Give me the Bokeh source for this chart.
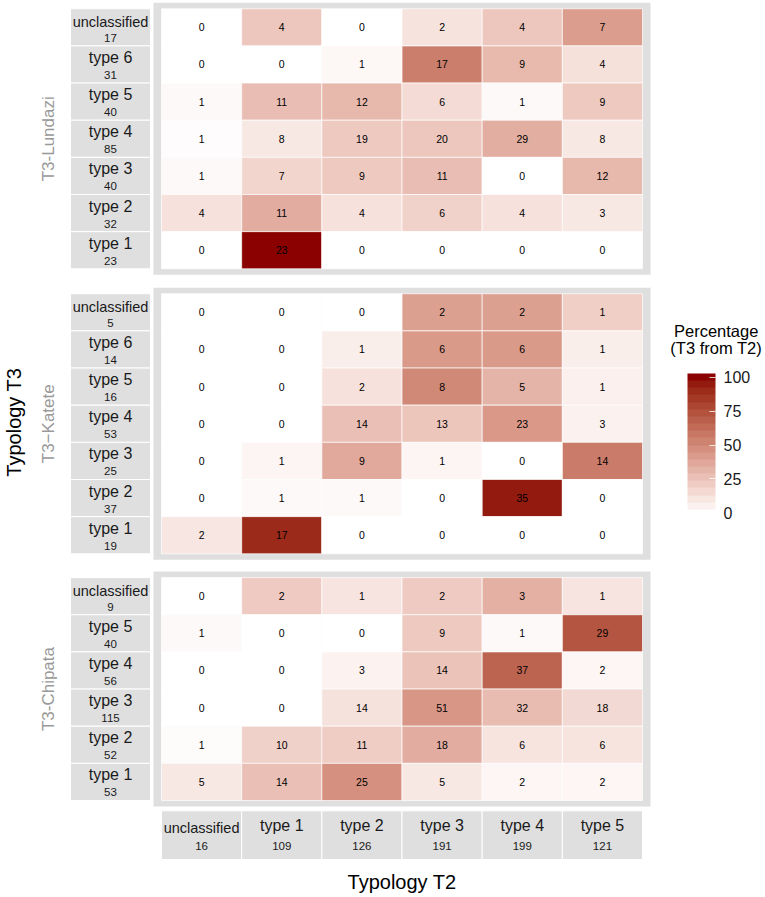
import numpy as np
from bokeh.plotting import figure
from bokeh.models import Range1d, ColumnDataSource, ColorBar, LinearColorMapper, FixedTicker
from bokeh.transform import linear_cmap
from bokeh.core.properties import value
from bokeh.embed import file_html
from bokeh.resources import INLINE

# ---------------- data ----------------
t2_categories = ["unclassified", "type 1", "type 2", "type 3", "type 4", "type 5"]

lundazi_rows = ["unclassified", "type 6", "type 5", "type 4", "type 3", "type 2", "type 1"]
lundazi_counts = [
    [0, 4, 0, 2, 4, 7],
    [0, 0, 1, 17, 9, 4],
    [1, 11, 12, 6, 1, 9],
    [1, 8, 19, 20, 29, 8],
    [1, 7, 9, 11, 0, 12],
    [4, 11, 4, 6, 4, 3],
    [0, 23, 0, 0, 0, 0],
]

katete_rows = ["unclassified", "type 6", "type 5", "type 4", "type 3", "type 2", "type 1"]
katete_counts = [
    [0, 0, 0, 2, 2, 1],
    [0, 0, 1, 6, 6, 1],
    [0, 0, 2, 8, 5, 1],
    [0, 0, 14, 13, 23, 3],
    [0, 1, 9, 1, 0, 14],
    [0, 1, 1, 0, 35, 0],
    [2, 17, 0, 0, 0, 0],
]

chipata_rows = ["unclassified", "type 5", "type 4", "type 3", "type 2", "type 1"]
chipata_counts = [
    [0, 2, 1, 2, 3, 1],
    [1, 0, 0, 9, 1, 29],
    [0, 0, 3, 14, 37, 2],
    [0, 0, 14, 51, 32, 18],
    [1, 10, 11, 18, 6, 6],
    [5, 14, 25, 5, 2, 2],
]

panel_names = ["T3-Lundazi", "T3\u2212Katete", "T3-Chipata"]
legend_ticks = [0, 25, 50, 75, 100]

# ---------------- colour gradient (white -> darkred, Lab) ----------------
M = np.array([[0.4124564, 0.3575761, 0.1804375],
              [0.2126729, 0.7151522, 0.0721750],
              [0.0193339, 0.1191920, 0.9503041]])
WP = np.array([0.95047, 1.0, 1.08883])


def hex_to_lab(h):
    c = np.array([int(h[i:i + 2], 16) for i in (1, 3, 5)]) / 255.0
    lin = np.where(c <= 0.04045, c / 12.92, ((c + 0.055) / 1.055) ** 2.4)
    xyz = (M @ lin) / WP
    f = np.where(xyz > 0.008856, np.cbrt(xyz), 7.787 * xyz + 16 / 116)
    return np.array([116 * f[1] - 16, 500 * (f[0] - f[1]), 200 * (f[1] - f[2])])


def lab_to_hex(lab):
    L, a, b = lab
    fy = (L + 16) / 116
    f = np.array([fy + a / 500, fy, fy - b / 200])
    xyz = np.where(f ** 3 > 0.008856, f ** 3, (f - 16 / 116) / 7.787) * WP
    lin = np.clip(np.linalg.inv(M) @ xyz, 0, 1)
    c = np.where(lin <= 0.0031308, 12.92 * lin, 1.055 * lin ** (1 / 2.4) - 0.055)
    r, g, bb = np.clip(np.round(c * 255), 0, 255).astype(int)
    return "#%02x%02x%02x" % (r, g, bb)


LOW, HIGH = hex_to_lab("#ffffff"), hex_to_lab("#8b0000")
palette256 = [lab_to_hex(LOW + t * (HIGH - LOW)) for t in np.linspace(0, 1, 256)]
palette20 = [lab_to_hex(LOW + t * (HIGH - LOW)) for t in np.linspace(0, 1, 20)]

# ---------------- layout constants ----------------
W, H = 765, 897
CW = 80.17          # px per T2 column
RH = 37.15          # px per T3 row
X0_PX = 161         # canvas x of first column
Y0_PX = 800         # canvas y of bottom of bottom panel
panel_bases = [14.312, 6.641, 0.0]
FONT_NAME = "Liberation Sans"
FONT = value(FONT_NAME)
GREY = "#dfdfdf"

p = figure(width=W, height=H, output_backend="svg", toolbar_location=None,
           x_range=Range1d(-X0_PX / CW, (W - X0_PX) / CW),
           y_range=Range1d(-(H - Y0_PX) / RH, Y0_PX / RH),
           min_border=0, outline_line_color=None)
p.axis.visible = False
p.grid.visible = False
p.background_fill_color = "white"
p.border_fill_color = "white"

all_rows = [lundazi_rows, katete_rows, chipata_rows]
all_counts = [lundazi_counts, katete_counts, chipata_counts]

cx, cy, ctext, cpct = [], [], [], []
sx, sy, sname, scount, sfs, syn = [], [], [], [], [], []
fx, fy, fh = [], [], []
col_totals = np.zeros(len(t2_categories), dtype=int)
for rows, counts, base in zip(all_rows, all_counts, panel_bases):
    n = len(rows)
    fx.append(len(t2_categories) / 2)
    fy.append(base + n / 2)
    fh.append(n + 2 * 6 / RH)
    for k, (rname, rc) in enumerate(zip(rows, counts)):
        pos = n - 1 - k
        tot = sum(rc)
        col_totals += np.array(rc)
        for i, c in enumerate(rc):
            cx.append(i + 0.5)
            cy.append(base + pos + 0.5)
            ctext.append(str(c))
            cpct.append(100.0 * c / tot if tot else 0.0)
        long_name = len(rname) > 8
        sx.append(-0.636)
        sy.append(base + pos + 0.5)
        syn.append(base + pos + 0.5 + (5.5 if long_name else 7.0) / RH)
        sname.append(rname)
        scount.append(str(tot))
        sfs.append("14.5px" if long_name else "16px")

# panel frames
p.rect(x=fx, y=fy, width=len(t2_categories) + 2 * 8 / CW, height=fh,
       fill_color=GREY, line_color=None)

cells = ColumnDataSource(dict(x=cx, y=cy, text=ctext, pct=cpct))
p.rect(x="x", y="y", width=1, height=1, source=cells,
       fill_color=linear_cmap("pct", palette256, 0, 100),
       line_color="white", line_width=0.7)
p.text(x="x", y="y", text="text", source=cells, text_align="center",
       text_baseline="middle", text_font=FONT, text_font_size="10.5px",
       text_color="black")

# left strips
strips = ColumnDataSource(dict(x=sx, y=sy, name=sname, count=scount, fs=sfs,
                               yn=syn, yc=[v - 10.5 / RH for v in sy]))
p.rect(x="x", y="y", width=0.998, height=1, source=strips,
       fill_color=GREY, line_color="white", line_width=1)
p.text(x="x", y="yn", text="name", source=strips, text_align="center",
       text_baseline="middle", text_font=FONT, text_font_size="fs",
       text_color="#1a1a1a")
p.text(x="x", y="yc", text="count", source=strips, text_align="center",
       text_baseline="middle", text_font=FONT, text_font_size="11.5px",
       text_color="#1a1a1a")

# bottom strips
bcy = -0.933
bot = ColumnDataSource(dict(
    x=[i + 0.5 for i in range(len(t2_categories))],
    name=t2_categories, count=[str(v) for v in col_totals],
    fs=["14.5px" if len(s) > 8 else "16px" for s in t2_categories],
    yn=[bcy + (7.5 if len(s) > 8 else 9.6) / RH for s in t2_categories]))
p.rect(x="x", y=bcy, width=1, height=1.311, source=bot,
       fill_color=GREY, line_color="white", line_width=1)
p.text(x="x", y="yn", text="name", source=bot, text_align="center",
       text_baseline="middle", text_font=FONT, text_font_size="fs",
       text_color="#1a1a1a")
p.text(x="x", y=bcy - 10.7 / RH, text="count", source=bot, text_align="center",
       text_baseline="middle", text_font=FONT, text_font_size="11.5px",
       text_color="#1a1a1a")

# panel labels
p.text(x=[-1.4095] * 3, y=[b + len(r) / 2 for b, r in zip(panel_bases, all_rows)],
       text=panel_names, angle=np.pi / 2, text_align="center", text_baseline="middle",
       text_font=FONT, text_font_size="17px", text_color="#999999")

# axis titles
p.text(x=[-1.842], y=[10.183], text=["Typology T3"], angle=np.pi / 2,
       text_align="center", text_baseline="middle", text_font=FONT,
       text_font_size="20px", text_color="black")
p.text(x=[3.0], y=[-2.207], text=["Typology T2"], text_align="center",
       text_baseline="middle", text_font=FONT, text_font_size="20px",
       text_color="black")

# legend title
p.text(x=[6.919, 6.919], y=[12.651, 12.167], text=["Percentage", "(T3 from T2)"],
       text_align="center", text_baseline="middle", text_font=FONT,
       text_font_size="16.5px", text_color="black")

half_bin = 100 / 19 / 2
mapper = LinearColorMapper(palette=palette20, low=-half_bin, high=100 + half_bin)
cb = ColorBar(color_mapper=mapper, location=(687, 381), width=28, height=143,
              padding=0, margin=0, ticker=FixedTicker(ticks=legend_ticks),
              major_tick_in=6, major_tick_out=0, major_tick_line_color="white",
              major_tick_line_alpha=0.8, minor_tick_line_color=None,
              label_standoff=8, major_label_text_font=FONT_NAME,
              major_label_text_font_size="16px", major_label_text_color="#1a1a1a",
              bar_line_color=None, border_line_color=None,
              background_fill_alpha=0)
p.add_layout(cb)

open("out.html", "w").write(file_html(p, INLINE))
